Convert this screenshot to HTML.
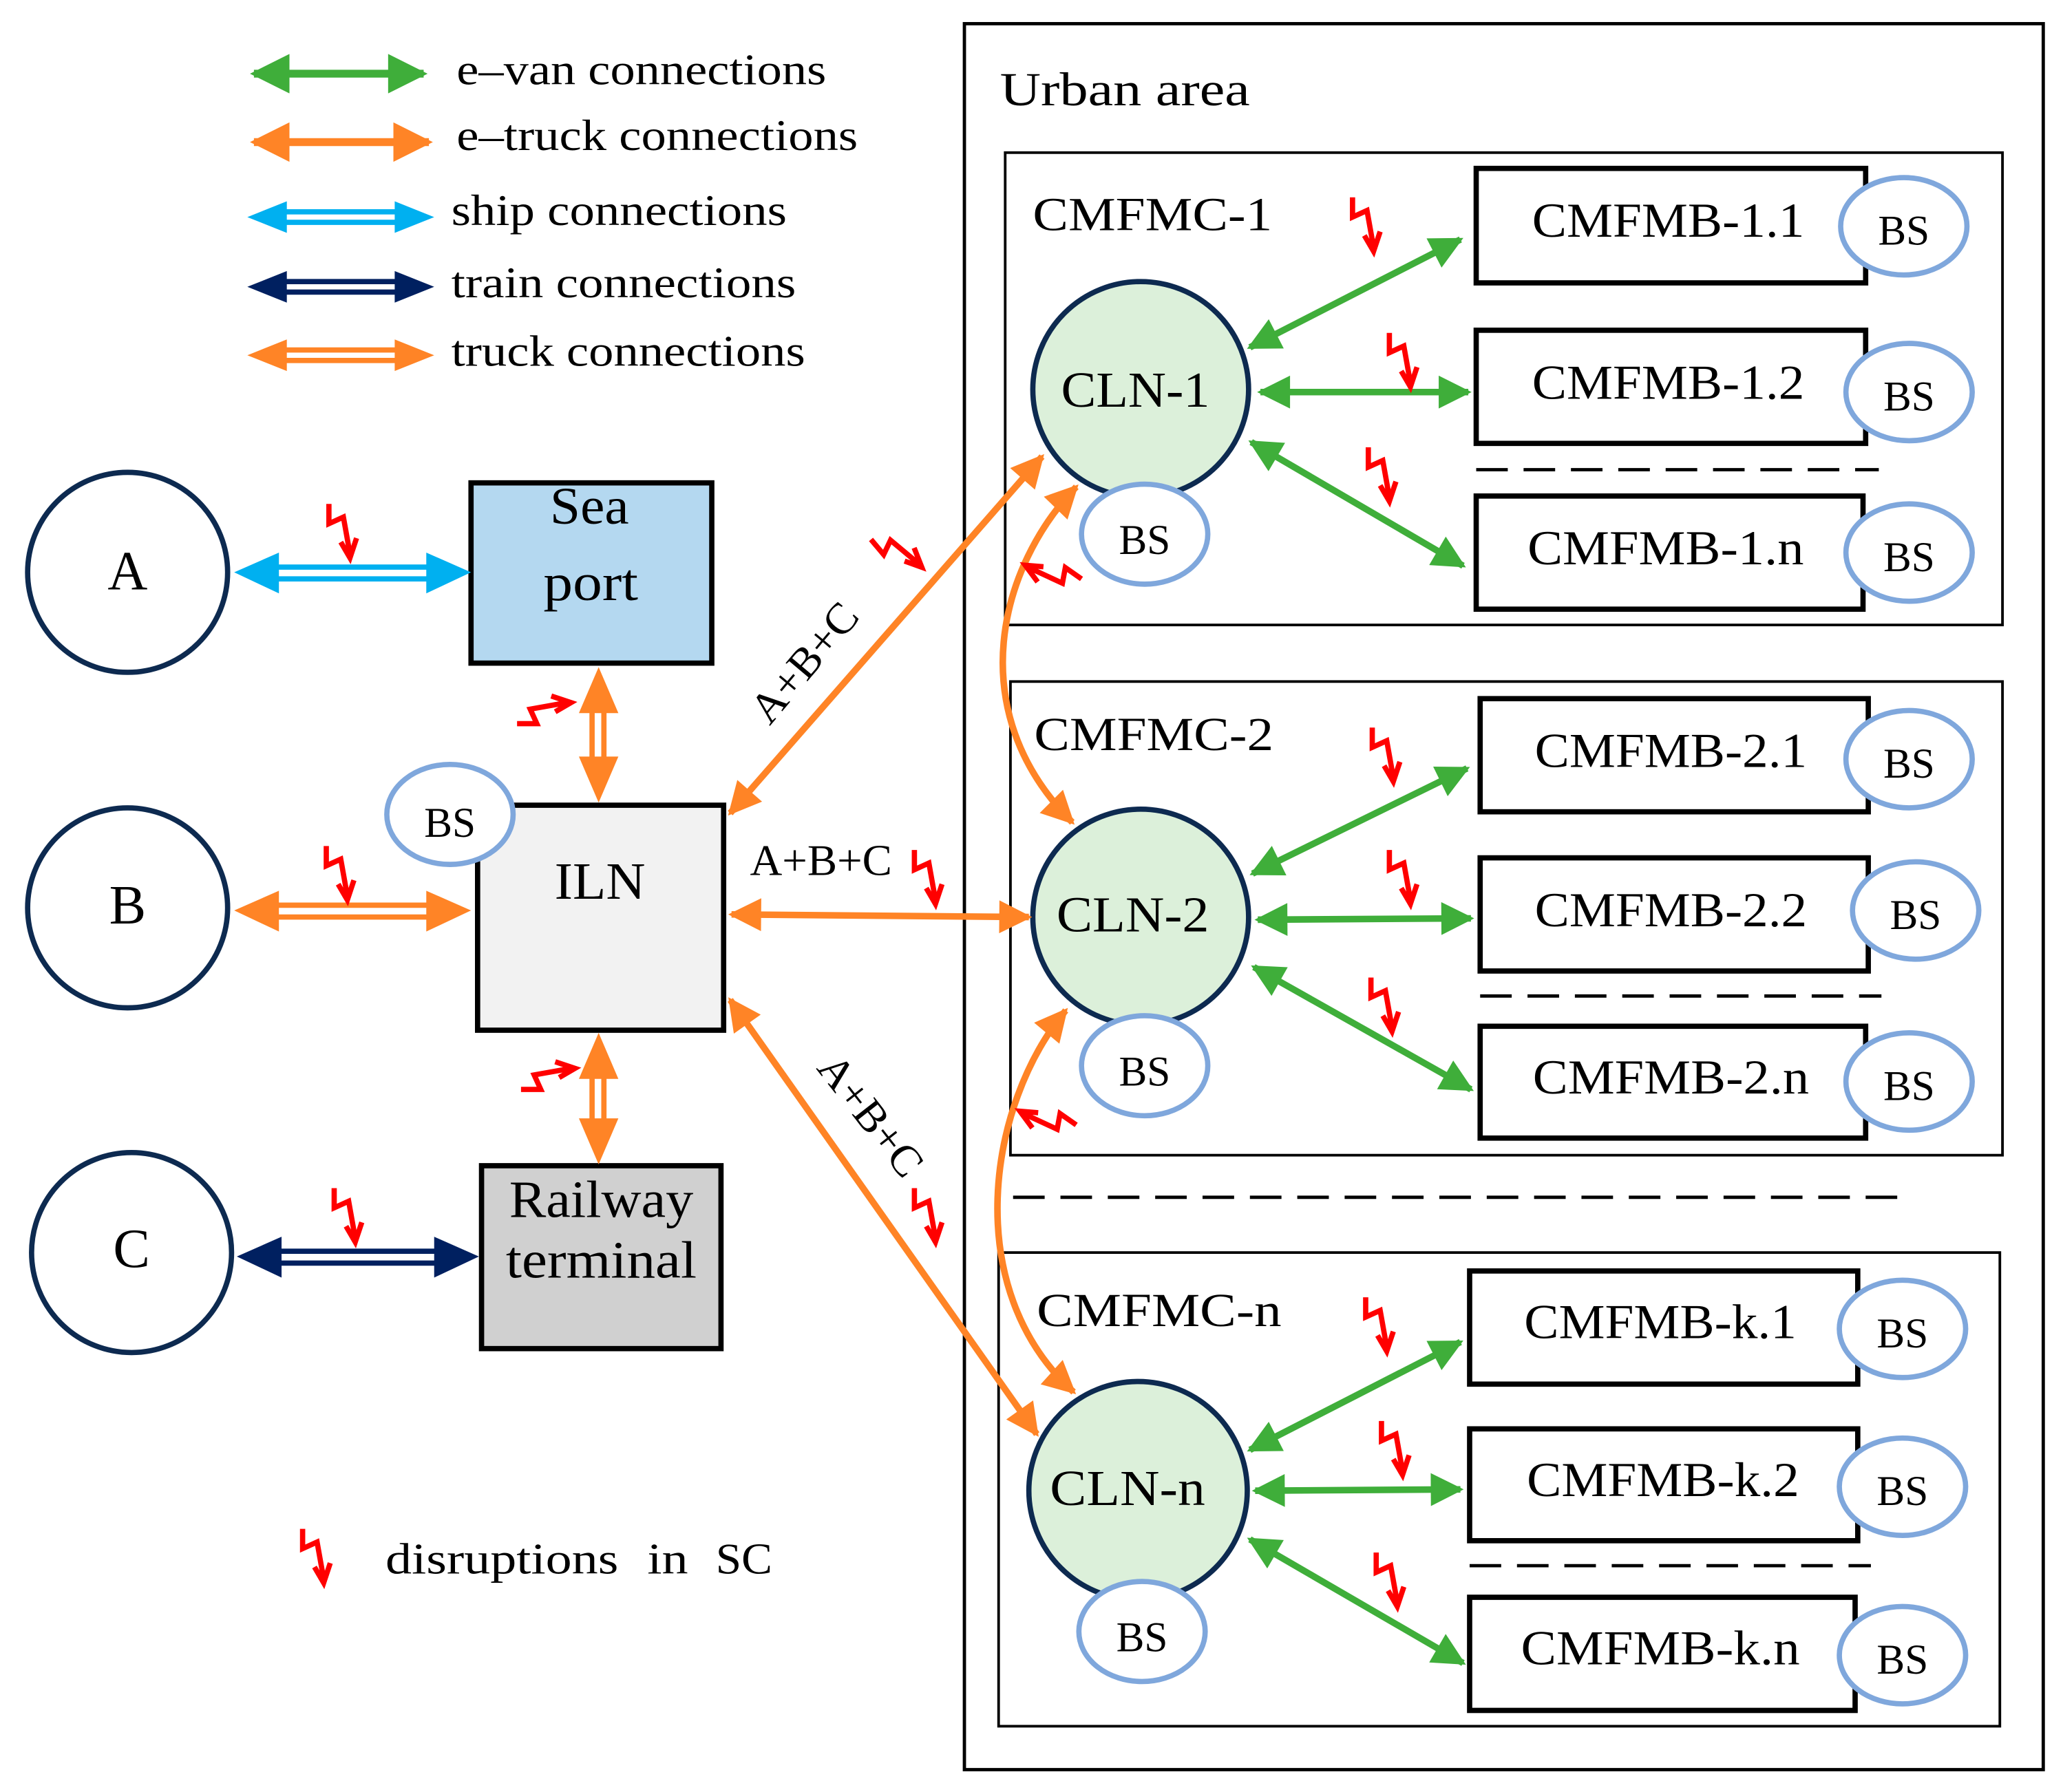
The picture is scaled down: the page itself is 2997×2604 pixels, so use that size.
<!DOCTYPE html>
<html><head><meta charset="utf-8"><style>html,body{margin:0;padding:0;background:#fff}svg{display:block}
text{font-family:"Liberation Serif",serif;fill:#000}</style></head><body>
<svg width="2997" height="2604" viewBox="0 0 1568 1362" preserveAspectRatio="none" xmlns="http://www.w3.org/2000/svg">
<defs>
<marker id="g" viewBox="0 0 10 10" refX="9" refY="5" markerWidth="6" markerHeight="5" orient="auto-start-reverse" markerUnits="strokeWidth"><path d="M0,0 L10,5 L0,10 z" fill="#3fae3a"/></marker>
<marker id="o" viewBox="0 0 10 10" refX="9" refY="5" markerWidth="6" markerHeight="5" orient="auto-start-reverse" markerUnits="strokeWidth"><path d="M0,0 L10,5 L0,10 z" fill="#ff8426"/></marker>
<g id="z"><path d="M0,0 L0,15 L11,10 L16,38 M9,29 L16,41 L21,26" fill="none" stroke="#f00" stroke-width="4"/></g>
</defs>
<g stroke-width="6" fill="none">
<line x1="193" y1="56" x2="322" y2="56" stroke="#3fae3a" marker-start="url(#g)" marker-end="url(#g)"/>
<line x1="193" y1="108" x2="326" y2="108" stroke="#ff8426" marker-start="url(#o)" marker-end="url(#o)"/>
</g>
<path d="M215,161 L302,161 M215,169 L302,169" stroke="#00b0f0" stroke-width="4"/>
<polygon points="188,165 218,153 218,177" fill="#00b0f0"/><polygon points="330,165 300,153 300,177" fill="#00b0f0"/>
<path d="M215,214 L302,214 M215,222 L302,222" stroke="#002060" stroke-width="4"/>
<polygon points="188,218 218,206 218,230" fill="#002060"/><polygon points="330,218 300,206 300,230" fill="#002060"/>
<path d="M215,266 L302,266 M215,274 L302,274" stroke="#ff8426" stroke-width="4"/>
<polygon points="188,270 218,258 218,282" fill="#ff8426"/><polygon points="330,270 300,258 300,282" fill="#ff8426"/>
<g font-size="33">
<text x="347" y="64" textLength="281" lengthAdjust="spacingAndGlyphs">e–van connections</text>
<text x="347" y="114" textLength="305" lengthAdjust="spacingAndGlyphs">e–truck connections</text>
<text x="343" y="171" textLength="255" lengthAdjust="spacingAndGlyphs">ship connections</text>
<text x="343" y="226" textLength="262" lengthAdjust="spacingAndGlyphs">train connections</text>
<text x="343" y="278" textLength="269" lengthAdjust="spacingAndGlyphs">truck connections</text>
</g>
<use href="#z" x="230" y="1162"/>
<g font-size="33">
<text x="293" y="1196" textLength="177" lengthAdjust="spacingAndGlyphs">disruptions</text>
<text x="492" y="1196" textLength="31" lengthAdjust="spacingAndGlyphs">in</text>
<text x="544" y="1196" textLength="43" lengthAdjust="spacingAndGlyphs">SC</text>
</g>

<rect x="733" y="18" width="820" height="1327" fill="none" stroke="#000" stroke-width="2.5"/>
<text x="760" y="80" font-size="36" textLength="190" lengthAdjust="spacingAndGlyphs">Urban area</text>
<rect x="764" y="116" width="758" height="359" fill="none" stroke="#000" stroke-width="2"/>
<rect x="768" y="518" width="754" height="360" fill="none" stroke="#000" stroke-width="2"/>
<rect x="759" y="952" width="761" height="360" fill="none" stroke="#000" stroke-width="2"/>
<line x1="770" y1="910" x2="1450" y2="910" stroke="#000" stroke-width="2.5" stroke-dasharray="24,12"/>
<text x="785" y="175" font-size="36" textLength="182" lengthAdjust="spacingAndGlyphs">CMFMC-1</text>
<text x="786" y="570" font-size="36" textLength="182" lengthAdjust="spacingAndGlyphs">CMFMC-2</text>
<text x="788" y="1008" font-size="36" textLength="186" lengthAdjust="spacingAndGlyphs">CMFMC-n</text>

<g fill="#fff" stroke="#000" stroke-width="4">
<rect x="1122" y="128" width="296" height="87"/><rect x="1122" y="251" width="296" height="86"/><rect x="1122" y="377" width="294" height="86"/>
<rect x="1125" y="531" width="295" height="86"/><rect x="1125" y="652" width="295" height="86"/><rect x="1125" y="780" width="293" height="85"/>
<rect x="1117" y="966" width="295" height="86"/><rect x="1117" y="1086" width="295" height="85"/><rect x="1117" y="1214" width="293" height="86"/>
</g>
<g stroke="#000" stroke-width="2.5" stroke-dasharray="24,12">
<line x1="1122" y1="357" x2="1428" y2="357"/><line x1="1125" y1="757" x2="1430" y2="757"/><line x1="1117" y1="1190" x2="1422" y2="1190"/>
</g>
<g font-size="37" text-anchor="middle">
<text x="1268" y="180" textLength="207" lengthAdjust="spacingAndGlyphs">CMFMB-1.1</text><text x="1268" y="303" textLength="207" lengthAdjust="spacingAndGlyphs">CMFMB-1.2</text><text x="1266" y="429" textLength="210" lengthAdjust="spacingAndGlyphs">CMFMB-1.n</text>
<text x="1270" y="583" textLength="207" lengthAdjust="spacingAndGlyphs">CMFMB-2.1</text><text x="1270" y="704" textLength="207" lengthAdjust="spacingAndGlyphs">CMFMB-2.2</text><text x="1270" y="831" textLength="210" lengthAdjust="spacingAndGlyphs">CMFMB-2.n</text>
<text x="1262" y="1017" textLength="207" lengthAdjust="spacingAndGlyphs">CMFMB-k.1</text><text x="1264" y="1137" textLength="207" lengthAdjust="spacingAndGlyphs">CMFMB-k.2</text><text x="1262" y="1265" textLength="212" lengthAdjust="spacingAndGlyphs">CMFMB-k.n</text>
</g>
<g fill="#fff" stroke="#7fa7dc" stroke-width="4">
<ellipse cx="1447" cy="172" rx="48" ry="37"/><ellipse cx="1451" cy="298" rx="48" ry="37"/><ellipse cx="1451" cy="420" rx="48" ry="37"/>
<ellipse cx="1451" cy="577" rx="48" ry="37"/><ellipse cx="1456" cy="692" rx="48" ry="37"/><ellipse cx="1451" cy="822" rx="48" ry="37"/>
<ellipse cx="1446" cy="1010" rx="48" ry="37"/><ellipse cx="1446" cy="1130" rx="48" ry="37"/><ellipse cx="1446" cy="1258" rx="48" ry="37"/>
</g>
<g font-size="32" text-anchor="middle">
<text x="1447" y="186">BS</text><text x="1451" y="312">BS</text><text x="1451" y="434">BS</text>
<text x="1451" y="591">BS</text><text x="1456" y="706">BS</text><text x="1451" y="836">BS</text>
<text x="1446" y="1024">BS</text><text x="1446" y="1144">BS</text><text x="1446" y="1272">BS</text>
</g>

<g fill="#dcf0da" stroke="#0d2a50" stroke-width="4">
<ellipse cx="867" cy="296" rx="82" ry="82"/><ellipse cx="867" cy="697" rx="82" ry="82"/><ellipse cx="865" cy="1133" rx="83" ry="83"/>
</g>
<g font-size="38" text-anchor="middle">
<text x="863" y="309" textLength="113" lengthAdjust="spacingAndGlyphs">CLN-1</text><text x="861" y="708" textLength="116" lengthAdjust="spacingAndGlyphs">CLN-2</text><text x="857" y="1144" textLength="118" lengthAdjust="spacingAndGlyphs">CLN-n</text>
</g>
<g fill="#fff" stroke="#7fa7dc" stroke-width="4">
<ellipse cx="870" cy="406" rx="48" ry="38"/><ellipse cx="870" cy="810" rx="48" ry="38"/><ellipse cx="868" cy="1240" rx="48" ry="38"/>
</g>
<g font-size="32" text-anchor="middle">
<text x="870" y="421">BS</text><text x="870" y="825">BS</text><text x="868" y="1255">BS</text>
</g>

<g stroke="#3fae3a" stroke-width="5" fill="none" marker-start="url(#g)" marker-end="url(#g)">
<line x1="950" y1="264" x2="1110" y2="182"/><line x1="958" y1="298" x2="1116" y2="298"/><line x1="951" y1="336" x2="1112" y2="430"/>
<line x1="952" y1="664" x2="1115" y2="584"/><line x1="956" y1="699" x2="1118" y2="698"/><line x1="953" y1="735" x2="1118" y2="828"/>
<line x1="950" y1="1102" x2="1110" y2="1020"/><line x1="954" y1="1133" x2="1110" y2="1132"/><line x1="950" y1="1170" x2="1112" y2="1264"/>
</g>

<g stroke="#ff8426" stroke-width="5" fill="none" marker-start="url(#o)" marker-end="url(#o)">
<line x1="555" y1="618" x2="792" y2="347"/>
<line x1="556" y1="695" x2="782" y2="697"/>
<line x1="555" y1="760" x2="788" y2="1090"/>
<path d="M818,370 C760,430 730,540 815,625"/>
<path d="M810,768 C750,840 730,980 816,1058"/>
</g>
<text font-size="33" transform="translate(585,552) rotate(-50)" textLength="108" lengthAdjust="spacingAndGlyphs">A+B+C</text>
<text x="570" y="665" font-size="33" textLength="108" lengthAdjust="spacingAndGlyphs">A+B+C</text>
<text font-size="33" transform="translate(620,812) rotate(52)" textLength="108" lengthAdjust="spacingAndGlyphs">A+B+C</text>

<g fill="#fff" stroke="#0d2a50" stroke-width="4">
<circle cx="97" cy="435" r="76"/><circle cx="97" cy="690" r="76"/><circle cx="100" cy="952" r="76"/>
</g>
<g font-size="42" text-anchor="middle"><text x="97" y="448">A</text><text x="97" y="702">B</text><text x="100" y="963">C</text></g>
<rect x="358" y="367" width="183" height="137" fill="#b4d8f0" stroke="#000" stroke-width="4"/>
<rect x="363" y="612" width="187" height="171" fill="#f2f2f2" stroke="#000" stroke-width="4"/>
<rect x="366" y="886" width="182" height="139" fill="#d0d0d0" stroke="#000" stroke-width="4"/>
<g font-size="40" text-anchor="middle">
<text x="448" y="398" textLength="60" lengthAdjust="spacingAndGlyphs">Sea</text><text x="449" y="456" textLength="72" lengthAdjust="spacingAndGlyphs">port</text>
<text x="456" y="683" textLength="69" lengthAdjust="spacingAndGlyphs">ILN</text>
<text x="457" y="925" textLength="140" lengthAdjust="spacingAndGlyphs">Railway</text><text x="457" y="971" textLength="145" lengthAdjust="spacingAndGlyphs">terminal</text>
</g>
<ellipse cx="342" cy="619" rx="48" ry="38" fill="#fff" stroke="#7fa7dc" stroke-width="4"/>
<text x="342" y="636" font-size="32" text-anchor="middle">BS</text>

<path d="M205,431 L332,431 M205,440 L332,440" stroke="#00b0f0" stroke-width="4"/>
<polygon points="178,435 212,420 212,451" fill="#00b0f0"/><polygon points="358,435 324,420 324,451" fill="#00b0f0"/>
<path d="M205,688 L332,688 M205,697 L332,697" stroke="#ff8426" stroke-width="4"/>
<polygon points="178,692 212,677 212,708" fill="#ff8426"/><polygon points="358,692 324,677 324,708" fill="#ff8426"/>
<path d="M208,951 L336,951 M208,960 L336,960" stroke="#002060" stroke-width="4"/>
<polygon points="180,955 214,940 214,971" fill="#002060"/><polygon points="364,955 330,940 330,971" fill="#002060"/>
<path d="M450,534 L450,583 M459,534 L459,583" stroke="#ff8426" stroke-width="4"/>
<polygon points="455,507 440,542 470,542" fill="#ff8426"/><polygon points="455,610 440,575 470,575" fill="#ff8426"/>
<path d="M450,812 L450,858 M459,812 L459,858" stroke="#ff8426" stroke-width="4"/>
<polygon points="455,785 440,820 470,820" fill="#ff8426"/><polygon points="455,885 440,850 470,850" fill="#ff8426"/>

<use href="#z" x="250" y="383"/>
<use href="#z" x="248" y="643"/>
<use href="#z" x="254" y="903"/>
<use href="#z" x="1028" y="150"/>
<use href="#z" x="1056" y="253"/>
<use href="#z" x="1040" y="340"/>
<use href="#z" x="1043" y="553"/>
<use href="#z" x="1056" y="646"/>
<use href="#z" x="1042" y="743"/>
<use href="#z" x="1038" y="986"/>
<use href="#z" x="1050" y="1080"/>
<use href="#z" x="1046" y="1180"/>
<use href="#z" x="695" y="646"/>
<use href="#z" x="695" y="903"/>
<use href="#z" transform="translate(393,550) rotate(-90)"/>
<use href="#z" transform="translate(396,828) rotate(-90)"/>
<use href="#z" transform="translate(662,410) rotate(-40)"/>
<use href="#z" transform="translate(822,440) rotate(125)"/>
<use href="#z" transform="translate(818,855) rotate(125)"/>
</svg>
</body></html>
